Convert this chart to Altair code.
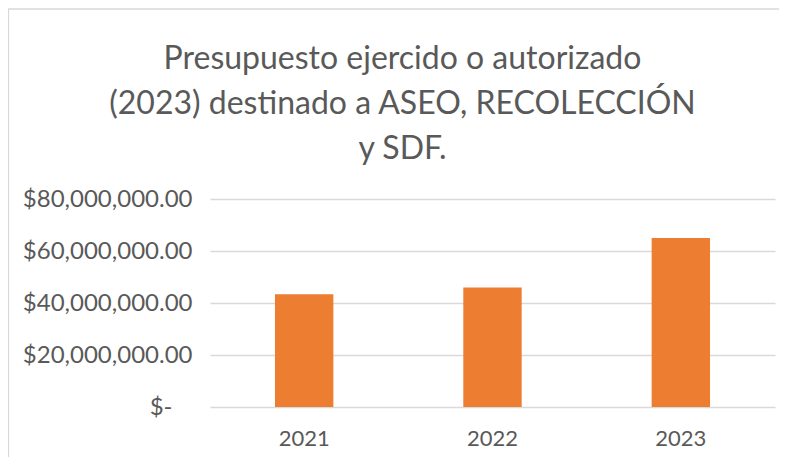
import altair as alt
import pandas as pd

years = ["2021", "2022", "2023"]
values = [43400000, 46000000, 65000000]
y_ticks = [0, 20000000, 40000000, 60000000, 80000000]
title_lines = ["Presupuesto ejercido o autorizado",
               "(2023) destinado a ASEO, RECOLECCIÓN",
               "y SDF."]

df = pd.DataFrame({"year": years, "value": values})

FONT = "Lato"
GRAY = "#595959"

border = alt.Chart(pd.DataFrame({"k": [0]})).mark_rect(
    fill="transparent", stroke="#d9d9d9", strokeWidth=1.3
).encode(
    x=alt.value(-201.5), x2=alt.value(900),
    y=alt.value(-190), y2=alt.value(600)
)

bars = alt.Chart(df).mark_bar(color="#ED7D31").encode(
    x=alt.X("year:N", sort=years,
            scale=alt.Scale(paddingInner=0.69, paddingOuter=0.345),
            axis=alt.Axis(title=None, labelAngle=0, labelFontSize=22,
                          labelFont=FONT, labelColor=GRAY, domain=False,
                          ticks=False, tickSize=0, labelPadding=21)),
    y=alt.Y("value:Q",
            scale=alt.Scale(domain=[0, 80000000], nice=False),
            axis=alt.Axis(title=None, values=y_ticks, domain=False,
                          ticks=False, tickSize=0,
                          labelPadding={"condition": {"test": "datum.value == 0", "value": 38}, "value": 18},
                          labelFontSize=24, labelFont=FONT, labelColor=GRAY,
                          gridColor="#d9d9d9", gridWidth=1.5,
                          labelExpr="datum.value == 0 ? '$-' : format(datum.value, '$,.2f')")),
)

chart = alt.layer(border, bars).properties(
    width=565, height=208,
    autosize=alt.AutoSizeParams(type="none"),
    padding={"left": 202, "top": 191, "right": 4, "bottom": 50},
    title=alt.TitleParams(text=title_lines, font=FONT, fontSize=32,
                          fontWeight="normal", color=GRAY, anchor="middle",
                          lineHeight=45, dx=-90, dy=158, offset=0),
).configure_view(stroke=None)

chart.save("out.html", embed_options={"renderer": "svg", "actions": False})
